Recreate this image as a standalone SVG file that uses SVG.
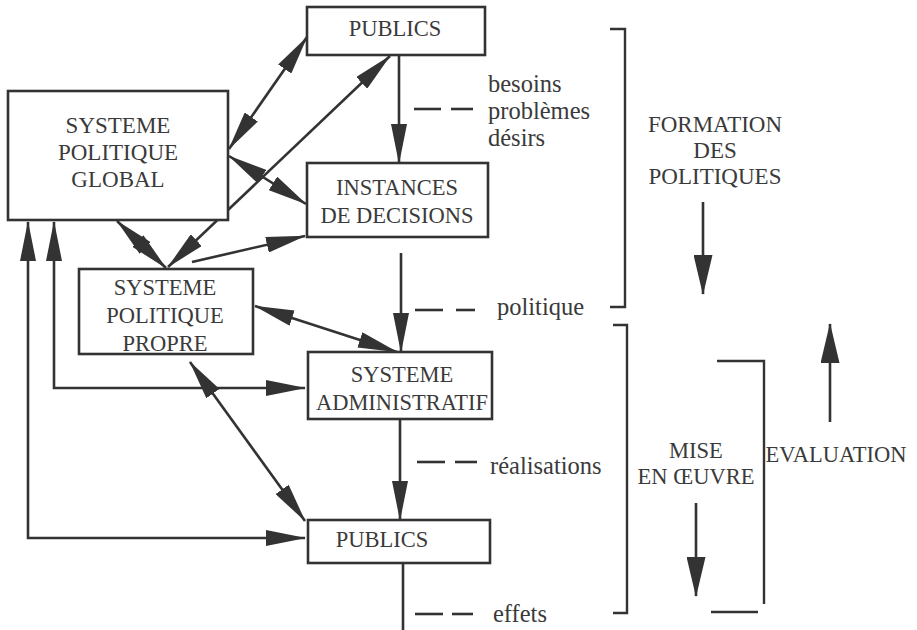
<svg xmlns="http://www.w3.org/2000/svg" width="917" height="630" viewBox="0 0 917 630" font-family="Liberation Serif, DejaVu Serif, Noto Serif, Times New Roman, serif">
<style>
.box{fill:#fff;stroke:#333;stroke-width:2.6}
.t{font-size:22.5px;fill:#3a3a3a;text-anchor:middle}
.l{font-size:24.5px;fill:#3a3a3a}
.c{fill:none;stroke:#333;stroke-width:2.6}
.br{fill:none;stroke:#333;stroke-width:2.4}
</style>
<defs>
<marker id="ah" markerUnits="userSpaceOnUse" markerWidth="40" markerHeight="16" refX="39" refY="8" orient="auto-start-reverse" viewBox="0 0 40 16">
<path d="M0,0 L40,8 L0,16 Z" fill="#333"/>
</marker>
<marker id="ahw" markerUnits="userSpaceOnUse" markerWidth="40" markerHeight="19" refX="39" refY="9.5" orient="auto-start-reverse" viewBox="0 0 40 19">
<path d="M0,0 L40,9.5 L0,19 Z" fill="#333"/>
</marker>
</defs>

<g id="connectors">
<line class="c" x1="399" y1="55" x2="399" y2="163" marker-end="url(#ah)"/>
<line class="c" x1="229" y1="149" x2="307" y2="37" marker-start="url(#ah)" marker-end="url(#ah)"/>
<line class="c" x1="390" y1="56" x2="168" y2="267" marker-start="url(#ah)" marker-end="url(#ah)"/>
<line class="c" x1="229" y1="156" x2="306" y2="204" marker-start="url(#ah)" marker-end="url(#ah)"/>
<line class="c" x1="117" y1="221" x2="166" y2="268" marker-start="url(#ah)" marker-end="url(#ah)"/>
<line class="c" x1="192" y1="262" x2="305" y2="236" marker-end="url(#ah)"/>
<line class="c" x1="255" y1="306" x2="397" y2="352" marker-start="url(#ah)" marker-end="url(#ah)"/>
<line class="c" x1="401" y1="253" x2="401" y2="352" marker-end="url(#ah)"/>
<line class="c" x1="400" y1="419" x2="400" y2="520" marker-end="url(#ah)"/>
<line class="c" x1="403" y1="563" x2="403" y2="630"/>
<line class="c" x1="190" y1="362" x2="305" y2="521" marker-start="url(#ah)" marker-end="url(#ah)"/>
<path class="c" d="M54,222 V388 H305" marker-start="url(#ah)" marker-end="url(#ah)"/>
<path class="c" d="M28,222 V538 H305" marker-start="url(#ah)" marker-end="url(#ah)"/>
<g id="dashes" class="c">
<line x1="414" y1="109" x2="441" y2="109"/><line x1="451" y1="109" x2="473" y2="109"/>
<line x1="415" y1="310" x2="443" y2="310"/><line x1="456" y1="310" x2="475" y2="310"/>
<line x1="417" y1="462" x2="445" y2="462"/><line x1="455" y1="462" x2="477" y2="462"/>
<line x1="415" y1="614" x2="443" y2="614"/><line x1="452" y1="614" x2="473" y2="614"/>
</g>
</g>

<g id="publics-top">
<rect class="box" x="307" y="7" width="178" height="48"/>
<text class="t" x="395" y="36">PUBLICS</text>
</g>
<g id="systeme-politique-global">
<rect class="box" x="8" y="91" width="220" height="129"/>
<text class="t" x="118" y="133" style="font-size:23px">SYSTEME</text>
<text class="t" x="118" y="160" style="font-size:23px">POLITIQUE</text>
<text class="t" x="118" y="187" style="font-size:23px">GLOBAL</text>
</g>
<g id="instances-de-decisions">
<rect class="box" x="307" y="163" width="181" height="74"/>
<text class="t" x="397" y="195">INSTANCES</text>
<text class="t" x="397" y="223">DE DECISIONS</text>
</g>
<g id="systeme-politique-propre">
<rect class="box" x="79" y="269" width="174" height="85"/>
<text class="t" x="165" y="295">SYSTEME</text>
<text class="t" x="165" y="323">POLITIQUE</text>
<text class="t" x="165" y="351">PROPRE</text>
</g>
<g id="systeme-administratif">
<rect class="box" x="308" y="352" width="184" height="67"/>
<text class="t" x="402" y="382">SYSTEME</text>
<text class="t" x="402" y="410" textLength="172" lengthAdjust="spacingAndGlyphs">ADMINISTRATIF</text>
</g>
<g id="publics-bottom">
<rect class="box" x="308" y="520" width="182" height="43"/>
<text class="t" x="382" y="547">PUBLICS</text>
</g>

<g id="labels">
<text class="l" x="488" y="92">besoins</text>
<text class="l" x="488" y="119">problèmes</text>
<text class="l" x="488" y="146">désirs</text>
<text class="l" x="497" y="315">politique</text>
<text class="l" x="490" y="474">réalisations</text>
<text class="l" x="493" y="622">effets</text>
</g>

<g id="formation">
<path class="br" d="M610,29 H625 V307 H610"/>
<text class="t" x="715" y="132" style="font-size:23px">FORMATION</text>
<text class="t" x="715" y="158" style="font-size:23px">DES</text>
<text class="t" x="715" y="184" style="font-size:23px">POLITIQUES</text>
<line class="c" x1="703" y1="202" x2="703" y2="294" marker-end="url(#ahw)"/>
</g>
<g id="mise-en-oeuvre">
<path class="br" d="M613,325 H627 V613 H613"/>
<text class="t" x="696" y="458">MISE</text>
<text class="t" x="696" y="484">EN ŒUVRE</text>
<line class="c" x1="696" y1="503" x2="696" y2="596" marker-end="url(#ahw)"/>
</g>
<g id="evaluation">
<path class="br" d="M717,361 H764 V604"/>
<line class="br" x1="711" y1="612" x2="758" y2="612"/>
<text class="t" x="836" y="462">EVALUATION</text>
<line class="c" x1="830" y1="422" x2="830" y2="324" marker-end="url(#ahw)"/>
</g>
</svg>
